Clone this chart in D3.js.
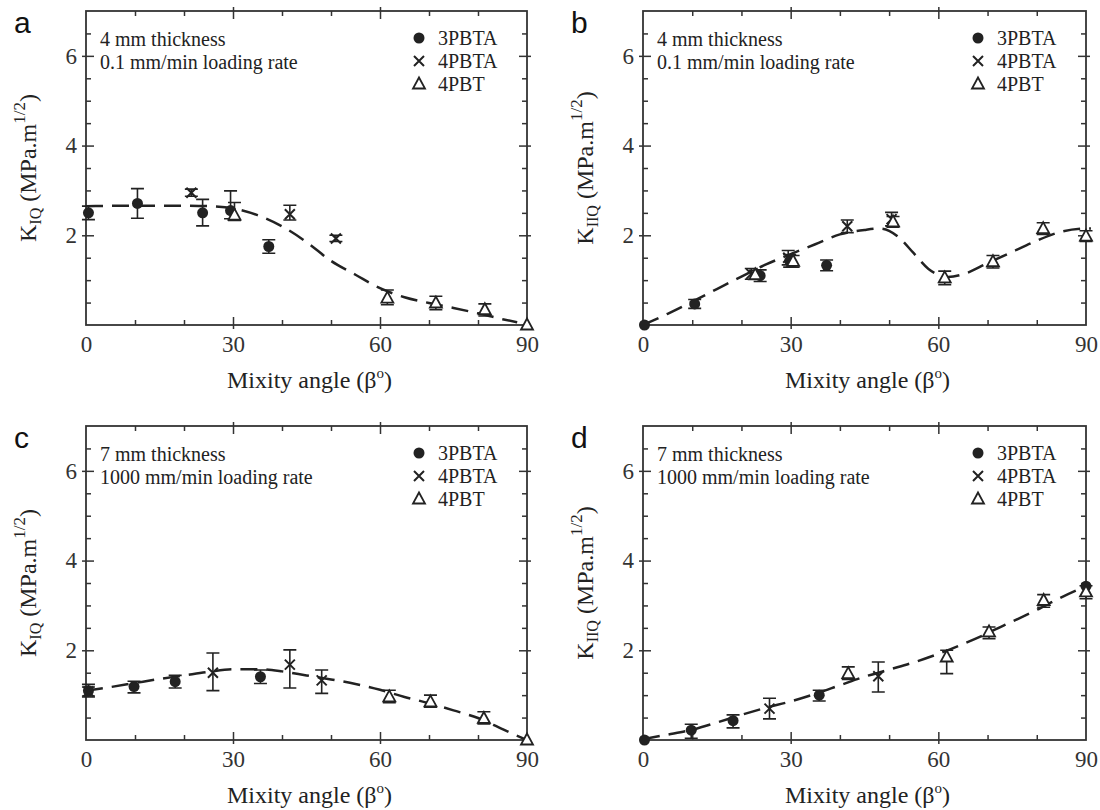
<!DOCTYPE html>
<html>
<head>
<meta charset="utf-8">
<script src="https://cdn.jsdelivr.net/npm/d3@7"></script>
<style>
  body { margin: 0; background: #fff; }
  svg { display: block; }
  text { fill: #222; }
</style>
</head>
<body>
<svg id="chart" width="1100" height="810"></svg>
<script>
// values
const xTicks = [0, 30, 60, 90]
const xMinor = [10, 20, 40, 50, 70, 80]
const yTicks = [2, 4, 6]
const yMinor = [0.5, 1, 1.5, 2.5, 3, 3.5, 4.5, 5, 5.5, 6.5]
const seriesNames = ['3PBTA', '4PBTA', '4PBT']
const notes4mm = ['4 mm thickness', '0.1 mm/min loading rate']
const notes7mm = ['7 mm thickness', '1000 mm/min loading rate']

// points: [beta, K, minus, plus]
const a3PBTA = [[0.5, 2.5, 0.15, 0.15], [10.5, 2.71, 0.33, 0.33], [23.8, 2.5, 0.29, 0.3], [29.5, 2.55, 0.18, 0.44], [37.3, 1.75, 0.15, 0.15]]
const a4PBTA = [[21.5, 2.95, 0.08, 0.08], [41.6, 2.47, 0.13, 0.2], [51, 1.93, 0.07, 0.07]]
const a4PBT = [[30.3, 2.45, 0.12, 0.28], [61.5, 0.6, 0.15, 0.18], [71.4, 0.49, 0.15, 0.15], [81.4, 0.34, 0.14, 0.13], [90, 0, 0, 0]]

const b3PBTA = [[0.3, 0, 0, 0], [10.5, 0.47, 0.1, 0.1], [23.8, 1.1, 0.13, 0.13], [29.8, 1.43, 0.14, 0.14], [37.3, 1.33, 0.12, 0.12]]
const b4PBTA = [[22, 1.14, 0.12, 0.12], [29.5, 1.5, 0.16, 0.16], [41.5, 2.2, 0.14, 0.14], [50.5, 2.36, 0.15, 0.15]]
const b4PBT = [[22.8, 1.12, 0.1, 0.1], [30.5, 1.42, 0.13, 0.13], [50.8, 2.3, 0.12, 0.12], [61.3, 1.05, 0.15, 0.15], [71.1, 1.41, 0.14, 0.14], [81.3, 2.15, 0.13, 0.13], [90, 1.98, 0.12, 0.12]]

const c3PBTA = [[0.5, 1.1, 0.14, 0.14], [9.8, 1.19, 0.14, 0.12], [18.2, 1.3, 0.14, 0.14], [35.6, 1.41, 0.15, 0.15]]
const c4PBTA = [[0.5, 1.08, 0.1, 0.1], [25.9, 1.5, 0.4, 0.44], [41.6, 1.68, 0.52, 0.33], [48.1, 1.33, 0.29, 0.23]]
const c4PBT = [[61.9, 0.96, 0.13, 0.15], [70.3, 0.85, 0.12, 0.15], [81.2, 0.48, 0.12, 0.15], [90, 0, 0, 0]]

const d3PBTA = [[0.3, 0, 0, 0], [9.8, 0.22, 0.18, 0.13], [18.3, 0.43, 0.16, 0.13], [35.8, 1.0, 0.13, 0.11], [90, 3.43, 0, 0]]
const d4PBTA = [[25.7, 0.7, 0.23, 0.23], [47.8, 1.42, 0.35, 0.32]]
const d4PBT = [[41.7, 1.48, 0.13, 0.15], [61.7, 1.85, 0.37, 0.15], [70.3, 2.41, 0.15, 0.11], [81.4, 3.11, 0.15, 0.13], [90, 3.3, 0.15, 0.14]]

// dashed fit curves: [beta, K]
const aFit = [[0, 2.65], [10, 2.66], [20, 2.66], [25, 2.65], [30, 2.6], [35, 2.45], [40, 2.2], [45, 1.85], [50, 1.43], [55, 1.12], [60, 0.82], [65, 0.62], [70, 0.49], [75, 0.38], [80, 0.26], [85, 0.13], [88, 0.06]]
const bFit = [[0, 0], [5, 0.25], [10, 0.52], [15, 0.8], [20, 1.08], [25, 1.35], [30, 1.58], [35, 1.8], [40, 2.02], [45, 2.12], [48, 2.15], [50, 2.1], [52, 1.95], [55, 1.6], [58, 1.25], [60, 1.12], [62, 1.07], [65, 1.13], [70, 1.38], [75, 1.63], [80, 1.88], [85, 2.08], [90, 2.15], [91, 2.15]]
const cFit = [[0, 1.1], [5, 1.18], [10, 1.27], [15, 1.36], [20, 1.44], [25, 1.52], [30, 1.58], [35, 1.58], [40, 1.53], [45, 1.44], [50, 1.35], [55, 1.25], [60, 1.12], [65, 0.96], [70, 0.82], [75, 0.66], [80, 0.49], [85, 0.24], [90, 0]]
const dFit = [[0, 0.02], [5, 0.12], [10, 0.23], [15, 0.39], [20, 0.56], [25, 0.72], [30, 0.86], [35, 1.03], [40, 1.22], [45, 1.41], [50, 1.57], [55, 1.73], [60, 1.92], [65, 2.14], [70, 2.38], [75, 2.64], [80, 2.9], [85, 3.18], [90, 3.43]]

// panel layout
const panels = [
  { label: 'a', box: [86, 11, 527, 325], sub: 'IQ', notes: notes4mm, series: [a3PBTA, a4PBTA, a4PBT], fit: aFit },
  { label: 'b', box: [643, 11, 1086, 325], sub: 'IIQ', notes: notes4mm, series: [b3PBTA, b4PBTA, b4PBT], fit: bFit },
  { label: 'c', box: [86, 426, 527, 740], sub: 'IQ', notes: notes7mm, series: [c3PBTA, c4PBTA, c4PBT], fit: cFit },
  { label: 'd', box: [643, 426, 1086, 740], sub: 'IIQ', notes: notes7mm, series: [d3PBTA, d4PBTA, d4PBT], fit: dFit }
]

const ink = '#222'
const serif = '"Liberation Serif", "Times New Roman", serif'
const sans = '"Liberation Sans", Arial, sans-serif'
const svg = d3.select('#chart')

function drawMarker (g, kind, cx, cy) {
  if (kind === 0) {
    g.append('circle').attr('cx', cx).attr('cy', cy).attr('r', 5.5).attr('fill', ink)
  } else if (kind === 1) {
    g.append('path')
        .attr('d', `M${cx - 5},${cy - 5}L${cx + 5},${cy + 5}M${cx - 5},${cy + 5}L${cx + 5},${cy - 5}`)
        .attr('stroke', ink).attr('stroke-width', 2).attr('fill', 'none')
  } else {
    g.append('path')
        .attr('d', `M${cx},${cy - 6.5}L${cx + 6},${cy + 4.5}L${cx - 6},${cy + 4.5}Z`)
        .attr('stroke', ink).attr('stroke-width', 1.8).attr('fill', '#fff')
  }
}

function drawPanel (p) {
  const [left, top, right, bottom] = p.box
  const x = d3.scaleLinear().domain([0, 90]).range([left, right])
  const y = d3.scaleLinear().domain([0, 7]).range([bottom, top])
  const g = svg.append('g')

  // ticks on all four sides: minor inward, major crossing the frame
  const tickAxis = (axis, pos, values, size) => {
    const a = g.append('g').attr('transform', pos)
        .call(axis.tickValues(values).tickSizeInner(size).tickSizeOuter(0).tickFormat(''))
    a.select('.domain').remove()
    a.selectAll('line').attr('stroke', '#333').attr('stroke-width', 1.5)
    return a
  }
  const majX = [30, 60]
  tickAxis(d3.axisBottom(x), `translate(0,${bottom})`, xMinor, -5)
  tickAxis(d3.axisBottom(x), `translate(0,${bottom})`, majX, -8)
  tickAxis(d3.axisBottom(x), `translate(0,${bottom})`, majX, 4)
  tickAxis(d3.axisTop(x), `translate(0,${top})`, xMinor, -5)
  tickAxis(d3.axisTop(x), `translate(0,${top})`, majX, -8)
  tickAxis(d3.axisTop(x), `translate(0,${top})`, majX, 4)
  tickAxis(d3.axisLeft(y), `translate(${left},0)`, yMinor, -5)
  tickAxis(d3.axisLeft(y), `translate(${left},0)`, yTicks, -8)
  tickAxis(d3.axisLeft(y), `translate(${left},0)`, yTicks, 4)
  tickAxis(d3.axisRight(y), `translate(${right},0)`, yMinor, -5)
  tickAxis(d3.axisRight(y), `translate(${right},0)`, yTicks, -8)
  tickAxis(d3.axisRight(y), `translate(${right},0)`, yTicks, 4)

  // tick labels
  const xl = g.append('g').attr('transform', `translate(0,${bottom})`)
      .call(d3.axisBottom(x).tickValues(xTicks).tickSize(0).tickPadding(11).tickFormat(d3.format('d')))
  xl.select('.domain').remove()
  const yl = g.append('g').attr('transform', `translate(${left},0)`)
      .call(d3.axisLeft(y).tickValues(yTicks).tickSize(0).tickPadding(9).tickFormat(d3.format('d')))
  yl.select('.domain').remove()
  g.selectAll('.tick text').style('font-size', '23px').style('fill', '#333')
      .style('font-family', serif)

  // frame
  g.append('rect').attr('x', left).attr('y', top)
      .attr('width', right - left).attr('height', bottom - top)
      .attr('fill', 'none').attr('stroke', '#333').attr('stroke-width', 1.8)

  // fitted curve
  const line = d3.line().x(d => x(d[0])).y(d => y(d[1])).curve(d3.curveMonotoneX)
  g.append('path').datum(p.fit).attr('d', line)
      .attr('fill', 'none').attr('stroke', ink).attr('stroke-width', 2.5)
      .attr('stroke-dasharray', '17,9')

  // error bars and markers
  p.series.forEach((pts, k) => {
    pts.forEach(d => {
      if (d[2] + d[3] > 0) {
        const cx = x(d[0]), ylo = y(d[1] - d[2]), yhi = y(d[1] + d[3])
        g.append('path')
            .attr('d', `M${cx},${ylo}L${cx},${yhi}M${cx - 6.5},${ylo}L${cx + 6.5},${ylo}M${cx - 6.5},${yhi}L${cx + 6.5},${yhi}`)
            .attr('stroke', ink).attr('stroke-width', 1.6).attr('fill', 'none')
      }
    })
    pts.forEach(d => drawMarker(g, k, x(d[0]), y(d[1])))
  })

  // legend
  seriesNames.forEach((name, k) => {
    const ly = top + 27 + k * 23
    drawMarker(g, k, right - 108, ly)
    g.append('text').attr('x', right - 89).attr('y', ly + 7)
        .style('font-family', serif).style('font-size', '20px').text(name)
  })

  // notes
  p.notes.forEach((t, k) => {
    g.append('text').attr('x', left + 14).attr('y', top + 35 + k * 23)
        .style('font-family', serif).style('font-size', '20px').text(t)
  })

  // panel letter
  g.append('text').attr('x', left - 72).attr('y', top + 22)
      .style('font-family', sans).style('font-size', '30px').style('fill', '#111').text(p.label)

  // axis titles
  const xt = g.append('text').attr('x', (left + right) / 2 + 3).attr('y', bottom + 63)
      .attr('text-anchor', 'middle').style('font-family', serif).style('font-size', '24px')
  xt.append('tspan').text('Mixity angle (β')
  xt.append('tspan').style('font-size', '15px').attr('dy', -10).text('o')
  xt.append('tspan').attr('dy', 10).text(')')

  const yt = g.append('text')
      .attr('transform', `translate(${left - 50},${(top + bottom) / 2}) rotate(-90)`)
      .attr('text-anchor', 'middle').style('font-family', serif).style('font-size', '24px')
  yt.append('tspan').text('K')
  yt.append('tspan').style('font-size', '16px').attr('dy', 5).text(p.sub)
  yt.append('tspan').attr('dy', -5).text(' (MPa.m')
  yt.append('tspan').style('font-size', '17px').attr('dy', -11).text('1/2')
  yt.append('tspan').attr('dy', 11).text(')')
}

panels.forEach(drawPanel)
</script>
</body>
</html>
